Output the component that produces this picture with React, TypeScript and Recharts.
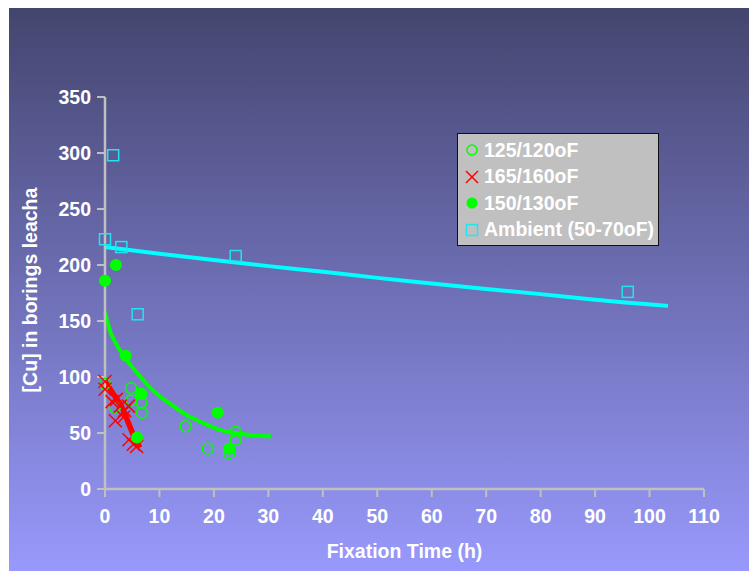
import React from "react";
import { ComposedChart, XAxis, YAxis, Scatter, Line } from "recharts";

// ---- data ----
const xTicks = [0, 10, 20, 30, 40, 50, 60, 70, 80, 90, 100, 110];
const yTicks = [0, 50, 100, 150, 200, 250, 300, 350];

const series125 = [
  { x: 0, y: 94 }, { x: 1.8, y: 73 }, { x: 4.8, y: 90 }, { x: 4.8, y: 79 },
  { x: 6.6, y: 85 }, { x: 6.7, y: 77 }, { x: 6.8, y: 68 }, { x: 14.8, y: 56 },
  { x: 18.9, y: 36 }, { x: 24, y: 51 }, { x: 24, y: 44 }, { x: 22.8, y: 32 },
];
const series165 = [
  { x: 0, y: 96 }, { x: 0, y: 89 }, { x: 1.3, y: 78 }, { x: 2.1, y: 80 },
  { x: 2.8, y: 74 }, { x: 3.6, y: 70 }, { x: 4.3, y: 74 }, { x: 1.9, y: 61 },
  { x: 3.4, y: 64 }, { x: 4.4, y: 44 }, { x: 5.8, y: 38 }, { x: 5.2, y: 40 },
];
const series150 = [
  { x: 0, y: 186 }, { x: 2, y: 200 }, { x: 3.8, y: 119 }, { x: 6.7, y: 85 },
  { x: 5.9, y: 46 }, { x: 20.7, y: 68 }, { x: 22.8, y: 36 },
];
const seriesAmbient = [
  { x: 0, y: 223 }, { x: 1.5, y: 298 }, { x: 3, y: 216 }, { x: 6, y: 156 },
  { x: 24, y: 208 }, { x: 96, y: 176 },
];

const trendAmbient = [
  { x: 0, y: 216 }, { x: 10, y: 210 }, { x: 20, y: 204.5 }, { x: 30, y: 199 },
  { x: 40, y: 194 }, { x: 50, y: 188.5 }, { x: 60, y: 183.5 }, { x: 70, y: 178.5 },
  { x: 80, y: 174 }, { x: 90, y: 169 }, { x: 103.4, y: 163.5 },
];
const trend125 = [
  { x: 0, y: 158 }, { x: 1, y: 140 }, { x: 2, y: 130 }, { x: 4, y: 115 },
  { x: 6, y: 103 }, { x: 8, y: 92 }, { x: 10, y: 83 }, { x: 12, y: 76 },
  { x: 15, y: 66 }, { x: 18, y: 59 }, { x: 21, y: 53 }, { x: 24, y: 50 },
  { x: 27, y: 48 }, { x: 30.5, y: 47 },
];
const trend165 = [
  { x: 0, y: 96 }, { x: 1.5, y: 85 }, { x: 3, y: 74 }, { x: 4.3, y: 59 },
  { x: 5.5, y: 45 }, { x: 6.4, y: 37 },
];

const legendItems = [
  { label: "125/120oF", kind: "hollow" },
  { label: "165/160oF", kind: "cross" },
  { label: "150/130oF", kind: "filled" },
  { label: "Ambient (50-70oF)", kind: "square" },
];

const GREEN = "#00ff00";
const RED = "#ff0000";
const CYAN = "#22e4f0";
const CYAN_LINE = "#00ffff";
const AXIS = "#c0c0c0";
const FONT = "'Liberation Sans', Arial, sans-serif";
const FS = 19.5;

const HollowCircle = (p: any) => (
  <circle cx={p.cx} cy={p.cy} r={5.5} fill="none" stroke={GREEN} strokeWidth={1.5} />
);
const FilledCircle = (p: any) => <circle cx={p.cx} cy={p.cy} r={6} fill={GREEN} />;
const Cross = (p: any) => (
  <g stroke={RED} strokeWidth={1.5}>
    <line x1={p.cx - 6.5} y1={p.cy - 6.5} x2={p.cx + 6.5} y2={p.cy + 6.5} />
    <line x1={p.cx - 6.5} y1={p.cy + 6.5} x2={p.cx + 6.5} y2={p.cy - 6.5} />
  </g>
);
const Square = (p: any) => (
  <rect x={p.cx - 5.5} y={p.cy - 5.5} width={11} height={11} fill="none" stroke={CYAN} strokeWidth={1.5} />
);

const markerSvg = (kind: string) => {
  const c = 8;
  let el: any = null;
  if (kind === "hollow") el = <circle cx={c} cy={c} r={5} fill="none" stroke={GREEN} strokeWidth={1.5} />;
  if (kind === "filled") el = <circle cx={c} cy={c} r={5.5} fill={GREEN} />;
  if (kind === "cross")
    el = (
      <g stroke={RED} strokeWidth={1.5}>
        <line x1={2} y1={2} x2={14} y2={14} />
        <line x1={2} y1={14} x2={14} y2={2} />
      </g>
    );
  if (kind === "square") el = <rect x={2.5} y={2.5} width={11} height={11} fill="none" stroke={CYAN} strokeWidth={1.5} />;
  return (
    <svg width={16} height={16} style={{ display: "block" }}>
      {el}
    </svg>
  );
};

const LegendBox = () => (
  <div
    style={{
      position: "absolute",
      left: 448,
      top: 125,
      background: "#c0c0c0",
      border: "1px solid #111",
      width: 200,
      height: 108,
      paddingTop: 3,
      fontFamily: FONT,
      fontWeight: 700,
      fontSize: FS,
      color: "#ffffff",
    }}
  >
    {legendItems.map((it) => (
      <div key={it.label} style={{ display: "flex", alignItems: "center", height: 26.5, paddingLeft: 6 }}>
        {markerSvg(it.kind)}
        <span style={{ marginLeft: 4, whiteSpace: "nowrap" }}>{it.label}</span>
      </div>
    ))}
  </div>
);

const YLabel = (props: any) => {
  const vb = props.viewBox || {};
  const cx = 21;
  const cy = (vb.y || 0) + (vb.height || 0) / 2 - 3;
  return (
    <text
      x={cx}
      y={cy}
      transform={`rotate(-90, ${cx}, ${cy})`}
      textAnchor="middle"
      dominantBaseline="central"
      fill="#ffffff"
      fontFamily={FONT}
      fontWeight={700}
      fontSize={FS}
    >
      [Cu] in borings leacha
    </text>
  );
};

const tickStyle = { fill: "#ffffff", fontFamily: FONT, fontWeight: 700, fontSize: FS };

export default function App() {
  return (
    <div
      style={{
        position: "absolute",
        left: 9,
        top: 8,
        width: 740,
        height: 563,
        background: "linear-gradient(to bottom, #44456e 0%, #9899fc 100%)",
      }}
    >
      <ComposedChart width={740} height={563} margin={{ top: 89, right: 45, bottom: 0, left: 0 }}>
        <XAxis
          type="number"
          dataKey="x"
          domain={[0, 110]}
          ticks={xTicks}
          height={82}
          tickSize={8}
          tickMargin={12}
          axisLine={{ stroke: AXIS, strokeWidth: 2.5 }}
          tickLine={{ stroke: AXIS, strokeWidth: 2 }}
          tick={tickStyle}
          label={{
            value: "Fixation Time (h)",
            position: "insideBottom",
            offset: 13,
            fill: "#ffffff",
            fontFamily: FONT,
            fontWeight: 700,
            fontSize: FS,
          }}
        />
        <YAxis
          type="number"
          dataKey="y"
          domain={[0, 350]}
          ticks={yTicks}
          width={96}
          tickSize={8}
          tickMargin={6}
          axisLine={{ stroke: AXIS, strokeWidth: 2.5 }}
          tickLine={{ stroke: AXIS, strokeWidth: 2 }}
          tick={tickStyle}
          label={<YLabel />}
        />
        <Scatter name="125/120oF" data={series125} shape={HollowCircle} isAnimationActive={false} legendType="none" />
        <Scatter name="165/160oF" data={series165} shape={Cross} isAnimationActive={false} legendType="none" />
        <Scatter name="150/130oF" data={series150} shape={FilledCircle} isAnimationActive={false} legendType="none" />
        <Scatter name="Ambient (50-70oF)" data={seriesAmbient} shape={Square} isAnimationActive={false} legendType="none" />
        <Line data={trendAmbient} dataKey="y" type="monotone" stroke={CYAN_LINE} strokeWidth={4} dot={false} activeDot={false} isAnimationActive={false} legendType="none" />
        <Line data={trend125} dataKey="y" type="monotone" stroke={GREEN} strokeWidth={4} dot={false} activeDot={false} isAnimationActive={false} legendType="none" />
        <Line data={trend165} dataKey="y" type="monotone" stroke={RED} strokeWidth={5.5} dot={false} activeDot={false} isAnimationActive={false} legendType="none" />
      </ComposedChart>
      <LegendBox />
    </div>
  );
}
